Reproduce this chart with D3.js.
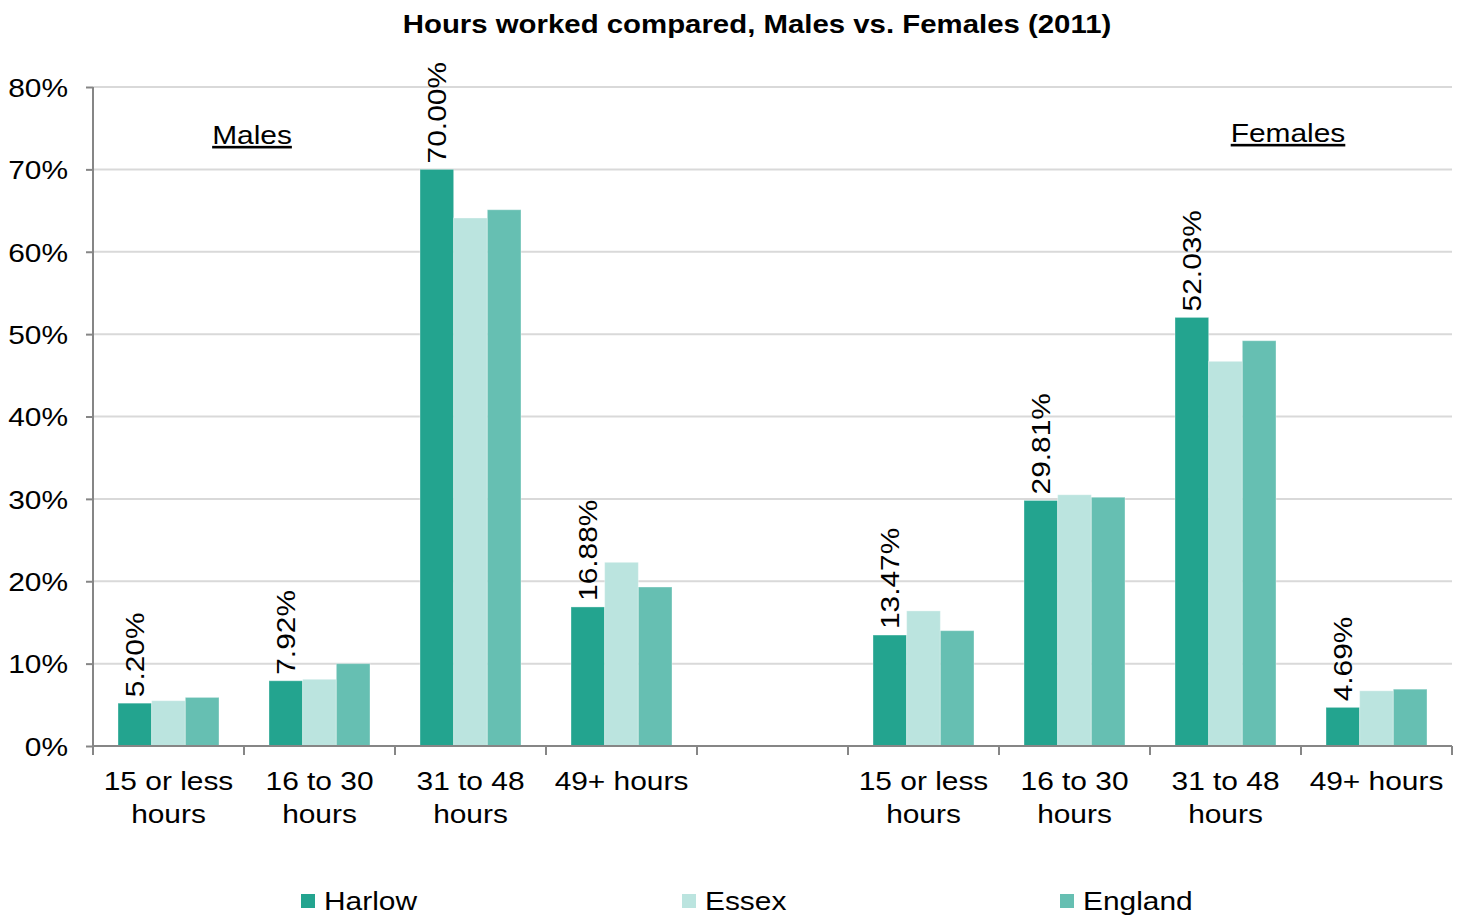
<!DOCTYPE html>
<html>
<head>
<meta charset="utf-8">
<script src="https://cdn.jsdelivr.net/npm/d3@7"></script>
<style>
  body { margin: 0; background: #fff; }
  text { font-family: "Liberation Sans", Arial, sans-serif; fill: #000; }
</style>
</head>
<body>
<div id="chart"></div>
<script>
// categories (blank slot in the middle separates males and females)
const categories = ["m1", "m2", "m3", "m4", "gap", "f1", "f2", "f3", "f4"];
const categoryLabels = [
  ["15 or less", "hours"], ["16 to 30", "hours"], ["31 to 48", "hours"], ["49+ hours"],
  [],
  ["15 or less", "hours"], ["16 to 30", "hours"], ["31 to 48", "hours"], ["49+ hours"]
];
const seriesNames = ["Harlow", "Essex", "England"];
const harlow  = [5.20, 7.92, 70.00, 16.88, null, 13.47, 29.81, 52.03, 4.69];
const essex   = [5.5, 8.1, 64.1, 22.3, null, 16.4, 30.5, 46.7, 6.7];
const england = [5.9, 10.0, 65.1, 19.3, null, 14.0, 30.2, 49.2, 6.9];
const yTicks = [0, 10, 20, 30, 40, 50, 60, 70, 80];
const colors = ["#23a48f", "#bbe4df", "#66bfb2"];

const SX = 1.15; // the original text is drawn a bit wider than Liberation Sans

const margin = { top: 87, right: 10, bottom: 171, left: 93 },
    width = 1462 - margin.left - margin.right,
    height = 917 - margin.top - margin.bottom;

const svg = d3.select("#chart")
    .append("svg")
    .attr("width", 1462)
    .attr("height", 917);

const g = svg.append("g")
    .attr("transform", `translate(${margin.left},${margin.top})`);

// stretched text helper
function label(parent, x, y, str, opts = {}) {
    const rot = opts.rotate ? ` rotate(${opts.rotate})` : "";
    return parent.append("text")
        .attr("transform", `translate(${x},${y})${rot} scale(${opts.sx || SX},1)`)
        .attr("text-anchor", opts.anchor || "start")
        .attr("font-size", opts.size || 26)
        .attr("font-weight", opts.weight || "normal")
        .attr("text-decoration", opts.decoration || "none")
        .text(str);
}

// title
label(svg, 757, 33, "Hours worked compared, Males vs. Females (2011)",
    { anchor: "middle", weight: "bold", size: 26, sx: 1.13 });

const xScale = d3.scaleBand()
    .domain(categories)
    .range([0, width]);

const xSub = d3.scaleBand()
    .domain(seriesNames)
    .range([25, xScale.bandwidth() - 25]);

const yScale = d3.scaleLinear()
    .domain([0, 80])
    .range([height, 0]);

// gridlines
g.selectAll(".grid")
    .data(yTicks.filter(d => d > 0))
    .enter().append("line")
    .attr("x1", 0)
    .attr("x2", width)
    .attr("y1", d => yScale(d))
    .attr("y2", d => yScale(d))
    .attr("stroke", "#d9d9d9")
    .attr("stroke-width", 2);

// bars
const seriesData = [harlow, essex, england];
seriesNames.forEach((name, si) => {
    g.selectAll(".bar-" + si)
        .data(categories.map((c, i) => ({ cat: c, v: seriesData[si][i] })).filter(d => d.v !== null))
        .enter().append("rect")
        .attr("x", d => xScale(d.cat) + xSub(name))
        .attr("y", d => yScale(d.v))
        .attr("width", xSub.bandwidth())
        .attr("height", d => height - yScale(d.v))
        .attr("fill", colors[si])
        .attr("stroke", "#ffffff")
        .attr("stroke-opacity", 0.35)
        .attr("stroke-width", 1);
});

// Harlow value labels (rotated)
categories.forEach((c, i) => {
    if (harlow[i] === null) return;
    const cx = xScale(c) + xSub("Harlow") + xSub.bandwidth() / 2 + 9;
    label(g, cx, yScale(harlow[i]) - 6, harlow[i].toFixed(2) + "%", { rotate: -90 });
});

// y axis
const yAxis = d3.axisLeft(yScale)
    .tickValues(yTicks)
    .tickSize(7)
    .tickFormat(d => d + "%");

const yG = g.append("g").call(yAxis);
yG.select(".domain").attr("stroke", "#868686").attr("stroke-width", 2).attr("d", `M0,0V${height}`);
yG.selectAll(".tick line").attr("stroke", "#868686").attr("stroke-width", 2);
yG.selectAll(".tick text")
    .attr("font-size", 26)
    .attr("font-family", "Liberation Sans, Arial, sans-serif")
    .attr("fill", "#000")
    .attr("x", -25 / SX)
    .attr("dy", "0.36em")
    .attr("transform", `scale(${SX},1)`);

// x axis
const xG = g.append("g").attr("transform", `translate(0,${height})`);
xG.append("line")
    .attr("x1", 0).attr("x2", width)
    .attr("stroke", "#868686").attr("stroke-width", 2);
xG.selectAll(".xtick")
    .data(categories.concat(["end"]))
    .enter().append("line")
    .attr("x1", (d, i) => i * xScale.bandwidth())
    .attr("x2", (d, i) => i * xScale.bandwidth())
    .attr("y1", 0).attr("y2", 9)
    .attr("stroke", "#868686").attr("stroke-width", 2);

categories.forEach((c, i) => {
    categoryLabels[i].forEach((line, j) => {
        label(xG, xScale(c) + xScale.bandwidth() / 2, 44 + j * 33, line, { anchor: "middle" });
    });
});

// group captions
label(svg, 252, 144, "Males", { anchor: "middle", decoration: "underline" });
label(svg, 1288, 142, "Females", { anchor: "middle", decoration: "underline" });

// legend
const legendX = [301, 682, 1060];
const legend = svg.append("g");
seriesNames.forEach((name, i) => {
    legend.append("rect")
        .attr("x", legendX[i]).attr("y", 894)
        .attr("width", 14).attr("height", 14)
        .attr("fill", colors[i]);
    label(legend, legendX[i] + 23, 910, name);
});
</script>
</body>
</html>
